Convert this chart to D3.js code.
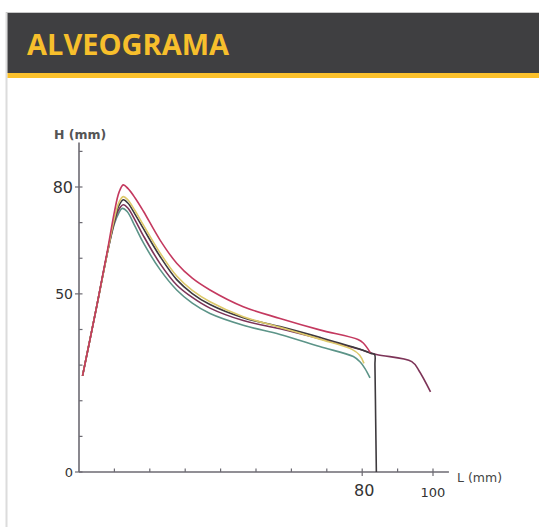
<!DOCTYPE html>
<html><head><meta charset="utf-8">
<script src="https://cdn.jsdelivr.net/npm/d3@7"></script>
<style>
html,body{margin:0;padding:0;background:#fff;}
svg{display:block;}
</style></head>
<body>
<svg id="chart" width="539" height="527"></svg>
<script>
const title = "ALVEOGRAMA";
const yLabel = "H (mm)";
const xLabel = "L (mm)";
const yTicks = d3.range(0, 100, 10);
const xTicks = d3.range(0, 110, 10);
const yTickLabels = [0, 50, 80];
const xTickLabels = [80, 100];

const redCurve = [[1,27],[5,46.5],[8,62],[10,73],[11.3,78.5],[12.5,80.6],[13.8,79.6],[15.8,77],[18.2,73.2],[22.9,65.1],[27.6,58.6],[32,54.4],[37,51.1],[46.4,46.4],[56.8,43.1],[68,39.9],[78.8,37.2],[80.3,36.2],[82.3,33.5]];
const yellowCurve = [[1,27],[5,46.5],[8,61.5],[10,71.2],[11.2,75.5],[12.5,77.3],[13.8,76.4],[15.8,73.4],[18.2,69.3],[22.9,61.5],[27.6,55],[32,51],[37,47.8],[46.4,43.6],[56.8,40.6],[68,37.3],[77,34.5],[79.3,32.8],[80.5,30.5]];
const darkCurve = [[1,27],[5,46.5],[8,61.5],[10,70.7],[11.2,74.6],[12.5,76.4],[13.8,75.5],[15.8,72.4],[18.2,68.3],[22.9,60.5],[27.6,54],[32,50.1],[37,47],[46.4,43.3],[56.8,40.8],[68,37.8],[79,34.6],[82.5,33.3],[83.5,33],[83.6,30],[83.8,15],[84,0]];
const maroonCurve = [[1,27],[5,46.5],[8,61.5],[10,70.2],[11.2,73.6],[12.5,75],[13.8,74.1],[15.8,70.8],[18.2,66.3],[22.9,58.5],[27.6,52.5],[32,49],[37,46],[46.4,42.5],[56.8,40.2],[68,37.4],[79,34.5],[84,33],[94,31],[96,28.5],[99.3,22.5]];
const tealCurve = [[1,27],[5,46.5],[8,61.5],[10,69.7],[11.2,72.6],[12.2,74],[13.6,73.1],[15.8,69],[18.2,64.3],[22.9,56.8],[27.6,51.1],[32,47.4],[37,44.5],[46.4,41.2],[56.8,38.6],[68,35.2],[77.5,32.4],[79.5,30.8],[80.8,29],[82.2,26.4]];

const seriesNames = ["teal","maroon","dark","yellow","red"];
const seriesData = [tealCurve, maroonCurve, darkCurve, yellowCurve, redCurve];
const seriesColors = ["#5c9488","#7d3458","#3e3a3e","#ddc96a","#c4395f"];

const svg = d3.select("#chart");

// frame
svg.append("rect").attr("x",0).attr("y",0).attr("width",539).attr("height",527).attr("fill","#fff");
svg.append("line").attr("x1",6.5).attr("x2",6.5).attr("y1",12).attr("y2",527).attr("stroke","#dcdcdc").attr("stroke-width",2);
svg.append("line").attr("x1",6).attr("x2",539).attr("y1",12.5).attr("y2",12.5).attr("stroke","#c8c8c8").attr("stroke-width",1);
svg.append("rect").attr("x",7.5).attr("y",13).attr("width",532).attr("height",60).attr("fill","#3f3f41");
svg.append("rect").attr("x",7.5).attr("y",73).attr("width",532).attr("height",5).attr("fill","#fbc12c");
svg.append("text").attr("x",27).attr("y",55).text(title)
  .attr("font-family","'Open Sans', sans-serif").attr("font-weight","bold").attr("font-size",29)
  .attr("fill","#f7bf2c");

const x = d3.scaleLinear().domain([0,100]).range([79,433]);
const y = d3.scaleLinear().domain([0,80]).range([472,187]);

const axisColor = "#6c6a72";
const g = svg.append("g");

// y axis
g.append("line").attr("x1",x(0)).attr("x2",x(0)).attr("y1",y(0)).attr("y2",y(92.5)).attr("stroke",axisColor).attr("stroke-width",1.6);
g.selectAll(".yt").data(yTicks).join("line")
  .attr("x1",d => yTickLabels.includes(d) ? x(0)-4 : x(0))
  .attr("x2",x(0)+3.5).attr("y1",d=>y(d)).attr("y2",d=>y(d))
  .attr("stroke",axisColor).attr("stroke-width",1.2);
g.selectAll(".yl").data(yTickLabels).join("text")
  .attr("x",x(0)-6).attr("y",d=>y(d)+ (d===80?6:5))
  .attr("text-anchor","end")
  .attr("font-family","'DejaVu Sans', sans-serif")
  .attr("font-size",d => d===80?16:(d===50?14:13))
  .attr("fill","#333").text(d=>d);
g.append("text").attr("x",54).attr("y",139).text(yLabel)
  .attr("font-family","'DejaVu Sans', sans-serif").attr("font-size",12.5).attr("font-weight","bold").attr("fill","#555");

// x axis
g.append("line").attr("x1",x(0)).attr("x2",x(104.5)).attr("y1",y(0)).attr("y2",y(0)).attr("stroke",axisColor).attr("stroke-width",1.6);
g.selectAll(".xt").data(xTicks.filter(d=>d>0)).join("line")
  .attr("x1",d=>x(d)).attr("x2",d=>x(d))
  .attr("y1",y(0)-3.5).attr("y2",d => xTickLabels.includes(d) ? y(0)+4 : y(0))
  .attr("stroke",axisColor).attr("stroke-width",1.2);
g.selectAll(".xl").data(xTickLabels).join("text")
  .attr("x",d=>x(d)+ (d===80?2:0)).attr("y",d => d===80?496:497)
  .attr("text-anchor","middle")
  .attr("font-family","'DejaVu Sans', sans-serif")
  .attr("font-size",d => d===80?16:13)
  .attr("fill","#333").text(d=>d);
g.append("text").attr("x",457).attr("y",482).text(xLabel)
  .attr("font-family","'DejaVu Sans', sans-serif").attr("font-size",12.5).attr("fill","#444");

// curves
const line = d3.line().x(d=>x(d[0])).y(d=>y(d[1])).curve(d3.curveCatmullRom.alpha(0.5));
g.selectAll(".curve").data(seriesData).join("path")
  .attr("d", line)
  .attr("fill","none")
  .attr("stroke",(d,i)=>seriesColors[i])
  .attr("stroke-width",1.6)
  .attr("stroke-linejoin","round");
</script>
</body></html>
